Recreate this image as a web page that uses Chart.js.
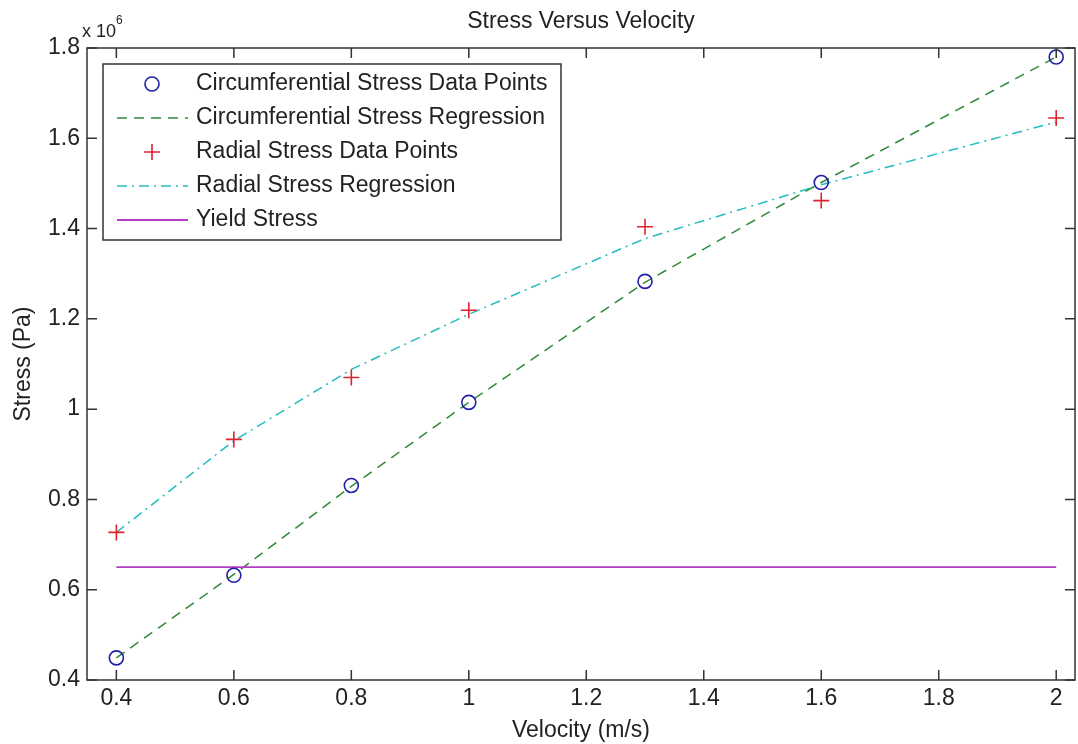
<!DOCTYPE html>
<html>
<head>
<meta charset="utf-8">
<title>Stress Versus Velocity</title>
<script src="https://cdn.jsdelivr.net/npm/chart.js@4.4.1/dist/chart.umd.min.js"></script>
<style>
    html, body { margin: 0; padding: 0; background: #fff; }
    canvas { display: block; }
</style>
</head>
<body>
<canvas id="stress-chart" width="1078" height="744"></canvas>
<script>
// valores em unidades de 10^6 Pa
const velocity = [0.4, 0.6, 0.8, 1.0, 1.3, 1.6, 2.0];
const circPoints = [0.449, 0.632, 0.831, 1.015, 1.283, 1.502, 1.780];
const circRegression = [0.449, 0.634, 0.829, 1.015, 1.281, 1.502, 1.780];
const radialPoints = [0.727, 0.933, 1.070, 1.219, 1.404, 1.462, 1.645];
const radialRegression = [0.727, 0.930, 1.088, 1.210, 1.378, 1.497, 1.636];
const yieldVelocity = [0.4, 2.0];
const yieldStress = [0.65, 0.65];

const xTicks = [0.4, 0.6, 0.8, 1.0, 1.2, 1.4, 1.6, 1.8, 2.0];
const yTicks = [0.4, 0.6, 0.8, 1.0, 1.2, 1.4, 1.6, 1.8];

const legendLabels = [
    'Circumferential Stress Data Points',
    'Circumferential Stress Regression',
    'Radial Stress Data Points',
    'Radial Stress Regression',
    'Yield Stress'
];

const FONT = "'Liberation Sans', Arial, sans-serif";
const TEXT = '#222';
const AXIS = '#333';

const toXY = (xs, ys) => xs.map((x, i) => ({ x: x, y: ys[i] }));
const fmt = (v) => String(Number(v.toFixed(1)));

// caixa, ticks internos, título e legenda no estilo MATLAB
const matlabFrame = {
    id: 'matlabFrame',
    afterDraw(chart) {
        const { ctx, chartArea: a, scales: { x, y } } = chart;
        ctx.save();
        ctx.strokeStyle = AXIS;
        ctx.lineWidth = 1.5;
        ctx.strokeRect(a.left, a.top, a.right - a.left, a.bottom - a.top);

        const tl = 10;
        ctx.beginPath();
        xTicks.forEach(v => {
            const px = x.getPixelForValue(v);
            ctx.moveTo(px, a.bottom); ctx.lineTo(px, a.bottom - tl);
            ctx.moveTo(px, a.top); ctx.lineTo(px, a.top + tl);
        });
        yTicks.forEach(v => {
            const py = y.getPixelForValue(v);
            ctx.moveTo(a.left, py); ctx.lineTo(a.left + tl, py);
            ctx.moveTo(a.right, py); ctx.lineTo(a.right - tl, py);
        });
        ctx.stroke();

        // título centrado na área do gráfico
        ctx.fillStyle = TEXT;
        ctx.font = '23px ' + FONT;
        ctx.textAlign = 'center';
        ctx.textBaseline = 'middle';
        ctx.fillText('Stress Versus Velocity', (a.left + a.right) / 2, 22);

        // multiplicador do eixo y
        ctx.textAlign = 'left';
        ctx.textBaseline = 'alphabetic';
        ctx.font = '18px ' + FONT;
        ctx.fillText('x 10', 82, 37);
        ctx.font = '12px ' + FONT;
        ctx.fillText('6', 116, 24);

        // legenda
        const box = { left: 103, top: 64, right: 561, bottom: 240 };
        ctx.fillStyle = '#fff';
        ctx.fillRect(box.left, box.top, box.right - box.left, box.bottom - box.top);
        ctx.strokeStyle = AXIS;
        ctx.lineWidth = 1.5;
        ctx.strokeRect(box.left, box.top, box.right - box.left, box.bottom - box.top);

        chart.data.datasets.forEach((ds, i) => {
            const rowY = 84 + i * 34;
            if (ds.showLine === false) {
                ctx.save();
                ctx.strokeStyle = ds.borderColor;
                ctx.lineWidth = ds.borderWidth;
                Chart.helpers.drawPoint(ctx, {
                    pointStyle: ds.pointStyle,
                    radius: ds.pointRadius,
                    borderWidth: ds.borderWidth
                }, 152, rowY);
                ctx.restore();
            } else {
                ctx.save();
                ctx.strokeStyle = ds.borderColor;
                ctx.lineWidth = ds.borderWidth;
                ctx.setLineDash(ds.borderDash || []);
                ctx.beginPath();
                ctx.moveTo(117, rowY);
                ctx.lineTo(188, rowY);
                ctx.stroke();
                ctx.restore();
            }
            ctx.fillStyle = TEXT;
            ctx.font = '23px ' + FONT;
            ctx.textBaseline = 'middle';
            ctx.textAlign = 'left';
            ctx.fillText(legendLabels[i], 196, rowY);
        });
        ctx.restore();
    }
};

new Chart(document.getElementById('stress-chart'), {
    type: 'scatter',
    data: {
        datasets: [
            {
                label: legendLabels[0],
                data: toXY(velocity, circPoints),
                showLine: false,
                pointStyle: 'circle',
                pointRadius: 7,
                borderColor: '#1f1fa8',
                backgroundColor: 'rgba(0,0,0,0)',
                borderWidth: 1.6,
                order: 1
            },
            {
                label: legendLabels[1],
                data: toXY(velocity, circRegression),
                showLine: true,
                pointRadius: 0,
                borderColor: '#2f8a3a',
                borderDash: [10, 7],
                borderWidth: 1.5,
                tension: 0,
                order: 4
            },
            {
                label: legendLabels[2],
                data: toXY(velocity, radialPoints),
                showLine: false,
                pointStyle: 'cross',
                pointRadius: 8,
                borderColor: '#e0222e',
                backgroundColor: 'rgba(0,0,0,0)',
                borderWidth: 1.6,
                order: 2
            },
            {
                label: legendLabels[3],
                data: toXY(velocity, radialRegression),
                showLine: true,
                pointRadius: 0,
                borderColor: '#22bcbf',
                borderDash: [10, 5, 2, 5],
                borderWidth: 1.5,
                tension: 0,
                order: 5
            },
            {
                label: legendLabels[4],
                data: toXY(yieldVelocity, yieldStress),
                showLine: true,
                pointRadius: 0,
                borderColor: '#b23cc4',
                borderWidth: 1.8,
                order: 3
            }
        ]
    },
    options: {
        responsive: false,
        animation: false,
        devicePixelRatio: 1,
        layout: { autoPadding: false, padding: { top: 48, right: 3, left: 0, bottom: 0 } },
        plugins: {
            legend: { display: false },
            title: { display: false },
            tooltip: { enabled: false }
        },
        scales: {
            x: {
                type: 'linear',
                min: 0.35,
                max: 2.032,
                grid: { display: false, drawTicks: false },
                border: { display: false },
                afterBuildTicks: (s) => { s.ticks = xTicks.map(v => ({ value: v })); },
                afterFit: (s) => {
                    s.height = 64;
                    s.paddingLeft = 0;
                    s.paddingRight = 0;
                },
                ticks: {
                    autoSkip: false,
                    maxRotation: 0,
                    padding: 5,
                    color: TEXT,
                    font: { family: FONT, size: 23 },
                    callback: (v) => fmt(v)
                },
                title: {
                    display: true,
                    text: 'Velocity (m/s)',
                    color: TEXT,
                    font: { family: FONT, size: 23 },
                    padding: { top: 0, bottom: 0 }
                }
            },
            y: {
                type: 'linear',
                min: 0.4,
                max: 1.8,
                grid: { display: false, drawTicks: false },
                border: { display: false },
                afterBuildTicks: (s) => { s.ticks = yTicks.map(v => ({ value: v })); },
                afterFit: (s) => {
                    s.width = 87;
                    s.paddingTop = 0;
                    s.paddingBottom = 0;
                },
                ticks: {
                    autoSkip: false,
                    padding: 7,
                    color: TEXT,
                    font: { family: FONT, size: 23 },
                    callback: (v) => fmt(v)
                },
                title: {
                    display: true,
                    text: 'Stress (Pa)',
                    color: TEXT,
                    font: { family: FONT, size: 23 },
                    padding: { top: 10, bottom: 0 }
                }
            }
        }
    },
    plugins: [matlabFrame]
});
</script>
</body>
</html>
